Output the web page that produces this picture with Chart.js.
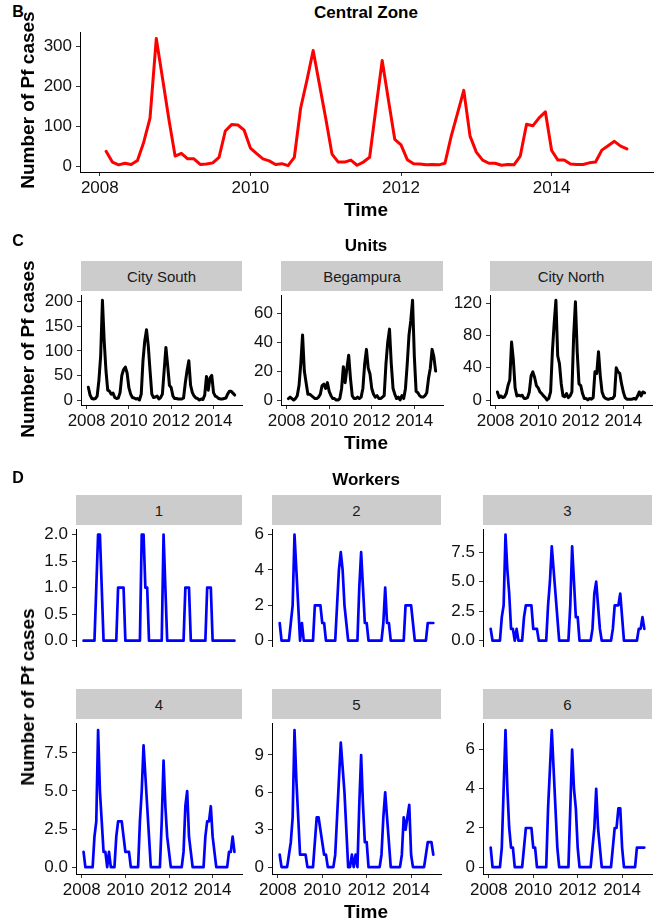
<!DOCTYPE html>
<html>
<head>
<meta charset="utf-8">
<script src="https://cdn.jsdelivr.net/npm/chart.js@4.4.1/dist/chart.umd.min.js"></script>
<style>
  body { margin: 0; width: 661px; height: 924px; position: relative; overflow: hidden; background: #fff;
         font-family: "Liberation Sans", Arial, sans-serif; color: #000; }
  canvas { position: absolute; }
  .lbl { position: absolute; white-space: nowrap; transform: translate(-50%, -50%); font-weight: bold; }
  .letter { font-size: 16px; }
  .title { font-size: 17px; }
  .axt { font-size: 19px; }
  .yt { transform: translate(-50%, -50%) rotate(-90deg); }
  .strip { position: absolute; background: #cccccc; color: #1a1a1a; font-size: 15px;
           display: flex; align-items: center; justify-content: center; }
</style>
</head>
<body>
<script>
// monthly series, Feb 2008 .. Jan 2015
const months = Array.from({ length: 84 }, (_, i) => 2008 + (i + 1) / 12);
const xTicks = [2008, 2010, 2012, 2014];

const centralZone = [37,10,3,7,4,14,60,120,320,220,118,25, 32,18,18,4,5,8,22,88,104,103,90,45,
  31,18,13,4,6,1,22,145,215,290,205,120, 30,10,10,15,2,10,22,145,265,165,67,53,
  16,6,5,3,4,3,7,75,132,190,75,35, 15,7,7,2,4,3,25,105,101,121,136,39, 15,15,5,4,4,8,10,40,51,62,50,43];

const citySouth = [26,10,3,2,3,8,40,90,203,120,60,20, 18,12,14,5,3,4,15,50,62,67,55,25,
  12,5,4,2,3,0,12,80,120,143,110,60, 12,5,6,8,2,5,12,60,107,70,30,25,
  8,3,3,2,2,2,4,35,60,80,30,15, 8,4,3,0,2,1,10,48,20,45,50,15, 8,6,3,2,2,3,4,12,18,18,14,10];
const begampura = [1,2,1,0,1,3,10,25,45,20,12,4, 4,3,2,1,1,2,4,10,11,8,12,6,
  3,1,1,0,0,1,8,23,12,22,31,15, 3,1,1,2,1,2,8,25,35,22,18,8,
  4,2,3,1,1,2,3,25,40,49,25,8, 4,1,2,0,3,1,8,25,45,55,69,30, 6,5,3,2,2,3,5,15,22,35,30,20];
const cityNorth = [10,3,5,3,4,8,18,25,72,50,15,5, 6,5,6,2,2,3,10,30,35,28,18,15,
  10,8,5,3,0,2,10,60,95,124,55,45, 20,5,4,8,3,5,10,80,122,60,20,18,
  8,2,2,0,2,1,3,35,33,60,30,10, 4,2,1,1,2,2,5,40,35,33,20,10, 3,1,1,1,1,2,1,5,10,5,10,9];

const worker1 = [0,0,0,0,0,0,0,1,2,2,1,0, 0,0,0,0,0,0,0,1,1,1,1,0, 0,0,0,0,0,0,0,0,2,2,1,1,
  0,0,0,0,0,0,0,0,2,1,0,0, 0,0,0,0,0,0,0,0,1,1,1,0, 0,0,0,0,0,0,0,0,1,1,1,0, 0,0,0,0,0,0,0,0,0,0,0,0];
const worker2 = [1,0,0,0,0,0,1,2,6,4,2,0, 1,0,0,0,0,0,0,2,2,2,2,1, 1,0,0,0,0,0,0,2,4,5,4,2,
  1,0,0,0,0,0,0,3,5,3,1,1, 0,0,0,0,0,0,0,0,1,3,1,1, 0,0,0,0,0,0,0,0,2,2,2,2, 1,0,0,0,0,0,0,0,1,1,1,1];
const worker3 = [1,0,0,0,0,0,2,3,9,6,4,1, 1,0,1,0,0,0,2,3,3,3,3,1, 1,1,0,0,0,0,0,3,5,8,6,4,
  2,0,0,0,0,0,0,3,8,5,2,2, 0,0,0,0,0,0,0,1,4,5,3,1, 0,0,0,0,0,0,1,3,3,3,4,2, 0,0,0,0,0,0,0,0,1,1,2,1];
const worker4 = [1,0,0,0,0,0,2,3,9,5,3,1, 1,0,1,0,0,0,2,3,3,3,2,1, 1,1,0,0,0,0,0,3,5,8,6,4,
  2,0,0,0,0,0,0,3,7,4,2,1, 0,0,0,0,0,0,0,1,4,5,2,1, 0,0,0,0,0,0,0,2,3,3,4,2, 1,0,0,0,0,0,0,0,1,1,2,1];
const worker5 = [1,0,0,0,0,1,2,4,11,7,4,1, 1,1,1,0,0,0,0,2,4,4,3,2, 1,1,0,0,0,0,1,4,7,10,8,6,
  3,0,0,1,0,1,0,5,9,5,2,2, 0,0,0,0,0,0,0,1,4,6,4,2, 0,0,0,0,0,0,1,4,3,4,5,1, 0,0,0,0,0,0,0,1,2,2,2,1];
const worker6 = [1,0,0,0,0,0,1,4,7,4,2,1, 1,0,0,0,0,0,1,2,2,2,2,1, 1,0,0,0,0,0,0,3,5,7,5,3,
  1,0,0,0,0,0,0,3,6,4,3,1, 0,0,0,0,0,0,0,1,2,4,2,1, 0,0,0,0,0,0,1,2,2,3,3,1, 0,0,0,0,0,0,0,1,1,1,1,1];

const yTicksCentral = ['0', '100', '200', '300'];
const yTicksSouth = ['0', '50', '100', '150', '200'];
const yTicksBegampura = ['0', '20', '40', '60'];
const yTicksNorth = ['0', '40', '80', '120'];
const yTicksW1 = ['0.0', '0.5', '1.0', '1.5', '2.0'];
const yTicksW2 = ['0', '2', '4', '6'];
const yTicksW3 = ['0.0', '2.5', '5.0', '7.5'];
const yTicksW5 = ['0', '3', '6', '9'];
const yTicksW6 = ['0', '2', '4', '6'];

// same x range on every panel (data range plus 5%)
const xMin = 2007.737, xMax = 2015.346;
const FONT = '"Liberation Sans", Arial, sans-serif';

function addText(cls, text, x, y) {
  const d = document.createElement('div');
  d.className = 'lbl ' + cls;
  d.textContent = text;
  d.style.left = x + 'px';
  d.style.top = y + 'px';
  document.body.appendChild(d);
}

function addStrip(text, l, t, r, b) {
  const d = document.createElement('div');
  d.className = 'strip';
  d.textContent = text;
  Object.assign(d.style, { left: l + 'px', top: t + 'px', width: (r - l) + 'px', height: (b - t) + 'px' });
  document.body.appendChild(d);
}

function makePanel(values, yTicks, color, lineW, rect, showX) {
  const [l, t, r, b] = rect;
  const yW = 70, pad = 10, xH = 34;
  const w = yW + (r - l) + pad;
  const h = pad + (b - t) + (showX ? xH : pad);
  const cv = document.createElement('canvas');
  cv.width = w; cv.height = h;
  Object.assign(cv.style, { left: (l - yW) + 'px', top: (t - pad) + 'px', width: w + 'px', height: h + 'px' });
  document.body.appendChild(cv);

  const lo = Math.min(...values), hi = Math.max(...values);
  const ex = (hi - lo) * 0.05;
  const tickFont = { family: FONT, size: 17 };

  new Chart(cv, {
    type: 'line',
    data: {
      datasets: [{
        data: months.map((m, i) => ({ x: m, y: values[i] })),
        borderColor: color,
        borderWidth: lineW,
        borderJoinStyle: 'round',
        borderCapStyle: 'round',
        pointRadius: 0,
        tension: 0,
        fill: false
      }]
    },
    options: {
      responsive: false,
      animation: false,
      events: [],
      layout: { padding: { left: 0, top: pad, right: pad, bottom: showX ? 0 : pad } },
      plugins: { legend: { display: false }, tooltip: { enabled: false } },
      scales: {
        x: {
          type: 'linear', min: xMin, max: xMax, display: showX,
          afterBuildTicks: s => { s.ticks = xTicks.map(v => ({ value: v })); },
          afterFit: s => { s.height = xH; },
          grid: { drawOnChartArea: false, drawTicks: true, tickLength: 4, color: '#333' },
          border: { display: true, color: '#000', width: 1 },
          ticks: { color: '#111', font: tickFont, padding: 2, maxRotation: 0, autoSkip: false,
                   callback: v => String(v) }
        },
        y: {
          type: 'linear', min: lo - ex, max: hi + ex,
          afterBuildTicks: s => { s.ticks = yTicks.map(v => ({ value: parseFloat(v) })); },
          afterFit: s => { s.width = yW; },
          grid: { drawOnChartArea: false, drawTicks: true, tickLength: 4, color: '#333' },
          border: { display: true, color: '#000', width: 1 },
          ticks: { color: '#111', font: tickFont, padding: 4, autoSkip: false,
                   callback: (v, i) => yTicks[i] }
        }
      }
    }
  });
}

// B: central zone
addText('letter', 'B', 18, 12);
addText('title', 'Central Zone', 366, 13);
makePanel(centralZone, yTicksCentral, '#ff0000', 3, [80, 28, 653, 172], true);
addText('axt yt', 'Number of Pf cases', 28, 100);
addText('axt', 'Time', 366, 210);

// C: units
addText('letter', 'C', 18, 241);
addText('title', 'Units', 366, 246);
const unitCols = [[81, 242], [281, 443], [490, 652]];
const unitNames = ['City South', 'Begampura', 'City North'];
const unitData = [citySouth, begampura, cityNorth];
const unitTicks = [yTicksSouth, yTicksBegampura, yTicksNorth];
unitCols.forEach(([l, r], k) => {
  addStrip(unitNames[k], l, 261, r, 291);
  makePanel(unitData[k], unitTicks[k], '#000000', 3, [l, 291, r, 405], true);
});
addText('axt yt', 'Number of Pf cases', 28, 349);
addText('axt', 'Time', 366, 443);

// D: workers
addText('letter', 'D', 18, 478);
addText('title', 'Workers', 366, 480);
const workerCols = [[76, 242], [272, 441], [483, 652]];
const workerRows = [[495, 525, 680], [689, 719, 874]];
const workerData = [worker1, worker2, worker3, worker4, worker5, worker6];
const workerTicks = [yTicksW1, yTicksW2, yTicksW3, yTicksW3, yTicksW5, yTicksW6];
workerData.forEach((vals, k) => {
  const [l, r] = workerCols[k % 3];
  const [st, t, b] = workerRows[Math.floor(k / 3)];
  addStrip(String(k + 1), l, st, r, t);
  makePanel(vals, workerTicks[k], '#0000ff', 2.7, [l, t, r, b], k >= 3);
});
addText('axt yt', 'Number of Pf cases', 28, 697);
addText('axt', 'Time', 366, 912);
</script>
</body>
</html>
